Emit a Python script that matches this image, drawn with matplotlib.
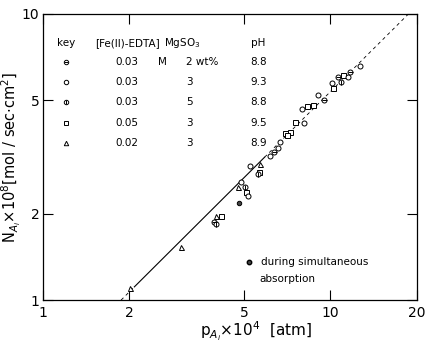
import matplotlib
matplotlib.use("Agg")
import matplotlib.pyplot as plt
import numpy as np

# Datos (pA x 1e4 [atm], NA x 1e8 [mol/sec cm2])
tri_x = [2.01, 3.02, 3.99, 4.78, 5.68]
tri_y = [1.10, 1.53, 1.96, 2.48, 3.00]

sq_x = [4.17, 5.07, 5.63, 6.97, 7.26, 7.06, 7.55, 8.27, 8.68, 10.2, 11.1]
sq_y = [1.96, 2.39, 2.81, 3.84, 3.87, 3.77, 4.20, 4.77, 4.80, 5.50, 6.10]

circ_x = [5.27, 4.87, 5.17, 6.14, 6.57, 6.66, 8.07, 7.98, 9.03, 10.1, 11.5, 12.7]
circ_y = [2.95, 2.59, 2.31, 3.19, 3.39, 3.56, 4.15, 4.65, 5.21, 5.73, 6.00, 6.60]

theta_x = [3.94, 6.35, 9.46, 10.6, 11.7]
theta_y = [1.88, 3.28, 5.00, 6.03, 6.28]

phi_x = [4.00, 5.04, 5.60, 10.9]
phi_y = [1.85, 2.48, 2.75, 5.77]

sim_x = [4.81]
sim_y = [2.18]

# recta de pendiente 1 en log-log
k_line = 0.535
solid_lim = [2.08, 5.9]
dash_lims = [[1.87, 2.08], [5.9, 18.7]]

key_rows = [["0.03", "M", "2 wt%", "8.8"],
            ["0.03", "", "3", "9.3"],
            ["0.03", "", "5", "8.8"],
            ["0.05", "", "3", "9.5"],
            ["0.02", "", "3", "8.9"]]

fig = plt.figure(figsize=(4.29, 3.47), dpi=100)
ax = fig.add_axes([0.100, 0.135, 0.872, 0.825])
ax.set_xscale("log")
ax.set_yscale("log")
ax.set_xlim(1, 20)
ax.set_ylim(1, 10)

ms = 3.6
mw = 0.7
ax.plot(tri_x, tri_y, ls="none", marker="^", ms=ms, mfc="white", mec="black", mew=mw, zorder=3)
ax.plot(sq_x, sq_y, ls="none", marker="s", ms=ms, mfc="white", mec="black", mew=mw, zorder=3)
ax.plot(circ_x, circ_y, ls="none", marker="o", ms=ms, mfc="white", mec="black", mew=mw, zorder=3)
ax.plot(theta_x, theta_y, ls="none", marker="o", ms=ms, mfc="white", mec="black", mew=mw, zorder=3)
ax.plot(theta_x, theta_y, ls="none", marker="_", ms=ms, mec="black", mew=mw, zorder=4)
ax.plot(phi_x, phi_y, ls="none", marker="o", ms=ms, mfc="white", mec="black", mew=mw, zorder=3)
ax.plot(phi_x, phi_y, ls="none", marker="|", ms=ms, mec="black", mew=mw, zorder=4)
ax.plot(sim_x, sim_y, ls="none", marker="o", ms=3.2, mfc="#444444", mec="black", mew=mw, zorder=3)

xs = np.array(solid_lim)
ax.plot(xs, k_line * xs, color="black", lw=0.8, zorder=2)
for lim in dash_lims:
    xd = np.array(lim)
    ax.plot(xd, k_line * xd, color="black", lw=0.6, ls=(0, (4, 4)), zorder=2)

ax.set_xticks([1, 2, 5, 10, 20])
ax.set_xticklabels(["1", "2", "5", "10", "20"])
ax.set_yticks([1, 2, 5, 10])
ax.set_yticklabels(["1", "2", "5", "10"])
ax.minorticks_off()
ax.tick_params(which="both", direction="in", top=True, right=True, length=7, width=0.8, labelsize=10, pad=4)
ax.tick_params(axis="y", pad=2.5)
for s in ax.spines.values():
    s.set_linewidth(0.9)

ax.set_xlabel(r"p$_{A_i}$$\times$10$^4$  [atm]", fontsize=11)
ax.xaxis.set_label_coords(0.57, -0.07)
ax.set_ylabel(r"N$_{A_i}$$\times$10$^8$[mol / sec$\cdot$cm$^2$]", fontsize=10.5)
ax.yaxis.set_label_coords(-0.052, 0.5)

# tabla de la leyenda
fs = 7.5

def fig_xy(px, py):
    # pixeles de la imagen -> coordenadas de figura
    return px / 429, 1 - py / 347

hdr_y = 43
fig.text(*fig_xy(66, hdr_y), "key", fontsize=fs, ha="center", va="center")
fig.text(*fig_xy(127, hdr_y), "[Fe(II)-EDTA]", fontsize=fs, ha="center", va="center")
fig.text(*fig_xy(182, hdr_y), r"MgSO$_3$", fontsize=fs, ha="center", va="center")
fig.text(*fig_xy(258, hdr_y), "pH", fontsize=fs, ha="center", va="center")

row_ys = [62, 82, 102, 123, 143]
markers = [("o", "_"), ("o", None), ("o", "|"), ("s", None), ("^", None)]
for ry, row, mk in zip(row_ys, key_rows, markers):
    fx, fy = fig_xy(66, ry)
    fig.lines.append(plt.Line2D([fx], [fy], transform=fig.transFigure, marker=mk[0], ms=3.2,
                                mfc="white", mec="black", mew=mw, ls="none"))
    if mk[1]:
        fig.lines.append(plt.Line2D([fx], [fy], transform=fig.transFigure, marker=mk[1], ms=3.2,
                                    mec="black", mew=mw, ls="none"))
    fig.text(*fig_xy(127, ry), row[0], fontsize=fs, ha="center", va="center")
    fig.text(*fig_xy(162, ry), row[1], fontsize=fs, ha="center", va="center")
    fig.text(*fig_xy(186, ry), row[2], fontsize=fs, ha="left", va="center")
    fig.text(*fig_xy(259, ry), row[3], fontsize=fs, ha="center", va="center")

fx, fy = fig_xy(249, 262)
fig.lines.append(plt.Line2D([fx], [fy], transform=fig.transFigure, marker="o", ms=3.2,
                            mfc="#444444", mec="black", ls="none"))
fig.text(*fig_xy(261, 262), "during simultaneous", fontsize=fs, ha="left", va="center")
fig.text(*fig_xy(259, 279), "absorption", fontsize=fs, ha="left", va="center")

fig.savefig("out.png", dpi=100)
